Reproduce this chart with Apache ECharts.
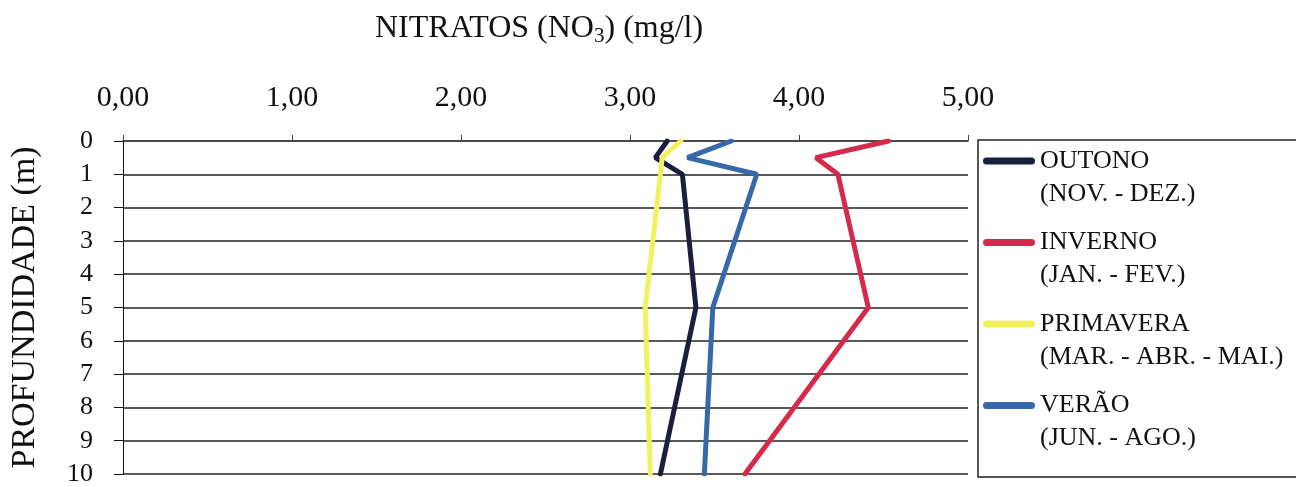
<!DOCTYPE html>
<html>
    <head>
        <meta charset="utf-8">
        <title>Nitratos</title>
        <script src="https://cdn.jsdelivr.net/npm/echarts@6/dist/echarts.min.js"></script>
        <style>
            html, body { margin: 0; padding: 0; background: #fff; }
        </style>
    </head>
    <body>
        <div id="chart1" style="width:1296px;height:487px;"></div>
    </body>
    <script type="text/javascript">
        // profundidade (m) e nitratos (mg/l) por estação
        var depths = [0, 0.5, 1, 5, 10];
        var outono = [3.22, 3.15, 3.31, 3.39, 3.18];
        var inverno = [4.53, 4.10, 4.23, 4.41, 3.68];
        var primavera = [3.30, 3.19, 3.18, 3.09, 3.12];
        var verao = [3.60, 3.34, 3.75, 3.49, 3.44];
        var seasons = ['OUTONO\n(NOV. - DEZ.)', 'INVERNO\n(JAN. - FEV.)', 'PRIMAVERA\n(MAR. - ABR. - MAI.)', 'VERÃO\n(JUN. - AGO.)'];
        var colors = ['#1b1f3e', '#d52a4c', '#f1f25e', '#3768a9'];

        var font = 'Liberation Serif';

        function pairs(vals) {
            return vals.map(function (v, i) { return [v, depths[i]]; });
        }

        var myChart1 = echarts.init(document.getElementById('chart1'));

        // barra da legenda alinhada com a primeira linha do texto
        var legendIcon = 'path://M0,0L0.01,0L0,0.01Z M3.5,13L48.5,13A3.5,3.5 0 0 1 48.5,20L3.5,20A3.5,3.5 0 0 1 3.5,13Z M0,66L0.01,66L0,65.99Z';

        myChart1.setOption({
            animation: false,
            title: {
                text: '{a|NITRATOS (NO}{s|3}{a|) (mg/l)}',
                left: 370,
                top: 8,
                textStyle: {
                    rich: {
                        a: { fontFamily: font, fontSize: 32, color: '#111', fontWeight: 'normal', verticalAlign: 'top' },
                        s: { fontFamily: font, fontSize: 21, lineHeight: 21, color: '#111', fontWeight: 'normal', verticalAlign: 'top', padding: [13, 0, 0, 0] }
                    }
                }
            },
            legend: {
                orient: 'vertical',
                left: 978,
                top: 140,
                padding: [4.5, 35, 22, 5],
                borderColor: '#222',
                borderWidth: 1.5,
                itemWidth: 52,
                itemHeight: 66,
                itemGap: 15.5,
                icon: legendIcon,
                itemStyle: { borderWidth: 0 },
                textStyle: { fontFamily: font, fontSize: 26, lineHeight: 33, color: '#111' },
                data: seasons
            },
            grid: {
                left: 114,
                top: 141,
                right: 328,
                bottom: 12
            },
            xAxis: {
                type: 'value',
                position: 'top',
                min: 0,
                max: 5,
                interval: 1,
                axisLine: { show: true, lineStyle: { color: '#444', width: 1.5 } },
                axisTick: { show: true, length: 6, lineStyle: { color: '#444' } },
                axisLabel: {
                    margin: 28,
                    fontFamily: font,
                    fontSize: 30,
                    color: '#111',
                    formatter: function (v) { return v.toFixed(2).replace('.', ','); }
                },
                splitLine: { show: false }
            },
            yAxis: {
                type: 'value',
                inverse: true,
                min: 0,
                max: 10,
                interval: 1,
                name: 'PROFUNDIDADE (m)',
                nameLocation: 'middle',
                nameGap: 81,
                nameRotate: 90,
                nameTextStyle: { fontFamily: font, fontSize: 34, color: '#111' },
                axisLine: { show: true, lineStyle: { color: '#111', width: 1 } },
                axisTick: { show: true, length: 9, lineStyle: { color: '#111' } },
                axisLabel: { margin: 30, fontFamily: font, fontSize: 26, color: '#111' },
                splitLine: { show: true, lineStyle: { color: '#222', width: 1.5 } }
            },
            series: [
                { name: seasons[0], type: 'line', data: pairs(outono), showSymbol: false, color: colors[0], lineStyle: { width: 5, color: colors[0], cap: 'round' } },
                { name: seasons[1], type: 'line', data: pairs(inverno), showSymbol: false, color: colors[1], lineStyle: { width: 5, color: colors[1], cap: 'round' } },
                { name: seasons[2], type: 'line', data: pairs(primavera), showSymbol: false, color: colors[2], lineStyle: { width: 5, color: colors[2], cap: 'round' } },
                { name: seasons[3], type: 'line', data: pairs(verao), showSymbol: false, color: colors[3], lineStyle: { width: 5, color: colors[3], cap: 'round' } }
            ]
        });
    </script>
</html>
